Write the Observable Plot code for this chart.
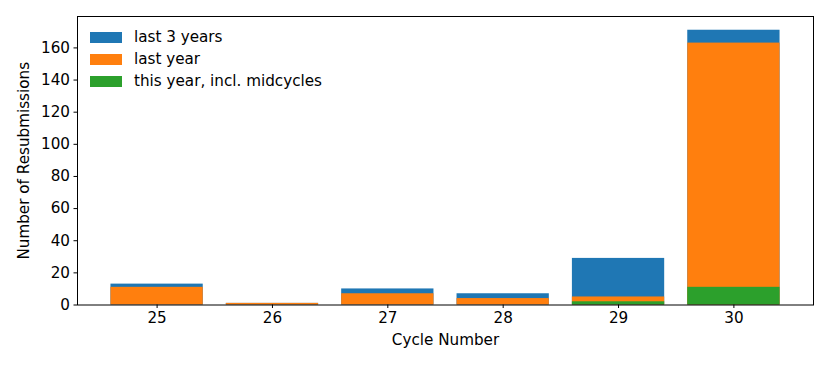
<!DOCTYPE html>
<html>
<head>
<meta charset="utf-8">
<script src="https://cdn.jsdelivr.net/npm/d3@7"></script>
<script src="https://cdn.jsdelivr.net/npm/@observablehq/plot@0.6"></script>
<style>
  html, body { margin: 0; padding: 0; background: #fff; }
  #wrap { position: relative; width: 830px; height: 369px; font-family: "DejaVu Sans", sans-serif; }
  #legend { position: absolute; left: 90px; top: 26px; font-size: 15.2px; color: #000; }
  #legend .row { display: flex; align-items: center; height: 22px; }
  #legend .sw { width: 32px; height: 11px; margin-right: 12px; }
</style>
</head>
<body>
<div id="wrap"></div>
<script>
const cycles = [25, 26, 27, 28, 29, 30];
const last3Years = [13, 1, 10, 7, 29, 171];
const lastYear = [11, 1, 7, 4, 5, 163];
const thisYear = [0, 0, 0, 0, 2, 11];
const seriesNames = ["last 3 years", "last year", "this year, incl. midcycles"];
const seriesColors = ["#1f77b4", "#ff7f0e", "#2ca02c"];
const yTicks = [0, 20, 40, 60, 80, 100, 120, 140, 160];

const seriesValues = [last3Years, lastYear, thisYear];
const rows = [];
seriesValues.forEach((vals, s) => {
  cycles.forEach((c, i) => rows.push({cycle: c, value: vals[i], series: seriesNames[s]}));
});

const yMax = d3.max(last3Years) * 1.05;
const xPad = (cycles[cycles.length - 1] - cycles[0] + 0.8) * 0.05;

const chart = Plot.plot({
  width: 830,
  height: 369,
  marginLeft: 77,
  marginRight: 17,
  marginTop: 16,
  marginBottom: 64.5,
  style: {fontFamily: "DejaVu Sans, sans-serif", fontSize: "15.2px", color: "#000", background: "#fff"},
  x: {domain: [cycles[0] - 0.4 - xPad, cycles[cycles.length - 1] + 0.4 + xPad]},
  y: {domain: [0, yMax]},
  color: {domain: seriesNames, range: seriesColors},
  marks: [
    Plot.rectY(rows, {
      x1: d => d.cycle - 0.4,
      x2: d => d.cycle + 0.4,
      y1: 0,
      y2: "value",
      fill: "series"
    }),
    Plot.axisX({ticks: cycles, tickFormat: d3.format("d"), tickSize: 3.5, tickPadding: 4, label: "Cycle Number", labelAnchor: "center", labelArrow: "none", labelOffset: 40, stroke: "#000", strokeOpacity: 1, fontSize: 15.2}),
    Plot.axisY({ticks: yTicks, tickSize: 3.5, tickPadding: 4, label: "Number of Resubmissions", labelAnchor: "center", labelArrow: "none", labelOffset: 59, stroke: "#000", strokeOpacity: 1, fontSize: 15.2}),
    Plot.frame({stroke: "#000", strokeWidth: 1})
  ]
});

const wrap = document.getElementById("wrap");
wrap.appendChild(chart);
const legend = document.createElement("div");
legend.id = "legend";
seriesNames.forEach((n, i) => {
  const row = document.createElement("div");
  row.className = "row";
  row.innerHTML = `<span class="sw" style="background:${seriesColors[i]}"></span><span>${n}</span>`;
  legend.appendChild(row);
});
wrap.appendChild(legend);
</script>
</body>
</html>
